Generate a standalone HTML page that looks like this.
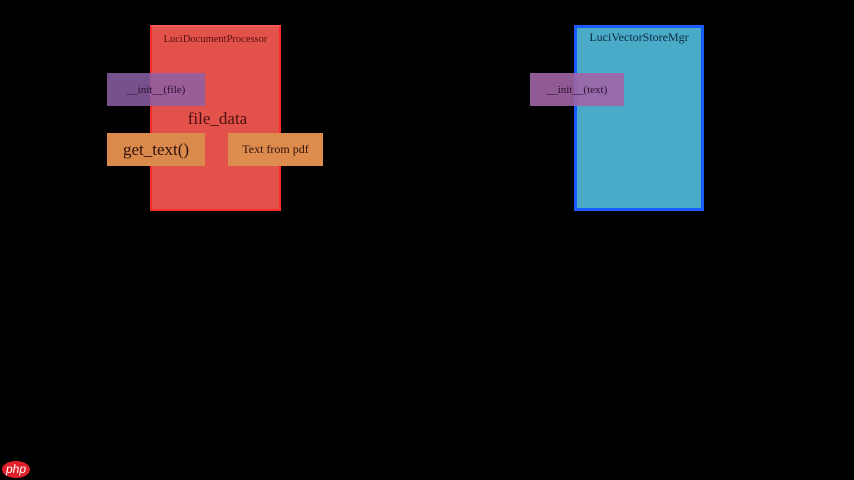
<!DOCTYPE html>
<html><head><style>
body{margin:0;width:854px;height:480px;background:#000;position:relative;overflow:hidden;font-family:"Liberation Serif",serif}
div{position:absolute;box-sizing:border-box}
.t{display:flex;align-items:center;justify-content:center;color:#2a1010}
</style></head><body>
<div style="left:150px;top:25px;width:131px;height:186px;background:#e2524b;border:2px solid #ff2a2a;border-top-color:#ff5a5a"></div>
<div style="left:150px;top:34px;width:131px;height:16px;font-size:10.5px;color:#5a1010;text-align:center">LuciDocumentProcessor</div>
<div class="t" style="left:107px;top:73px;width:98px;height:33px;background:rgba(140,95,165,0.85);font-size:11px;color:#2a1030">__init__(file)</div>
<div class="t" style="left:170px;top:107px;width:95px;height:24px;font-size:17px;color:#4a1010">file_data</div>
<div class="t" style="left:107px;top:133px;width:98px;height:33px;background:#d98a4c;font-size:17px;color:#301008">get_text()</div>
<div class="t" style="left:228px;top:133px;width:95px;height:33px;background:#dd8c4e;font-size:12px;color:#301008">Text from pdf</div>
<div style="left:574px;top:25px;width:130px;height:186px;background:#4aabc8;border:3px solid #1a5cff"></div>
<div style="left:574px;top:30px;width:130px;height:16px;font-size:12px;color:#0a2a40;text-align:center">LuciVectorStoreMgr</div>
<div class="t" style="left:530px;top:73px;width:94px;height:33px;background:rgba(160,100,165,0.9);font-size:11px;color:#2a1030">__init__(text)</div>
<div style="left:2px;top:461px;width:28px;height:17px;border-radius:50%;background:#e0202a;color:#fff;font-family:'Liberation Sans',sans-serif;font-style:italic;font-size:12px;text-align:center;line-height:17px">php</div>
</body></html>
